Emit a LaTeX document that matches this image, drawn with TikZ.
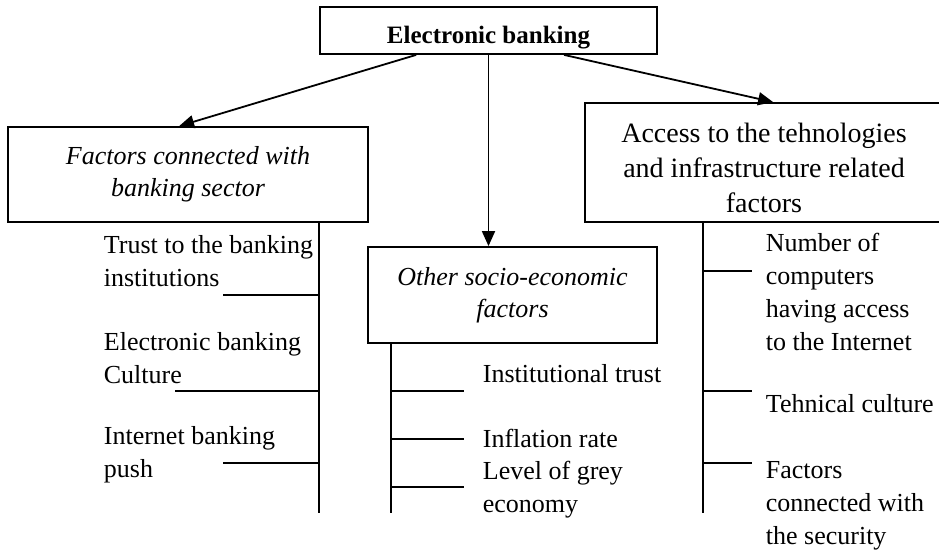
\documentclass[tikz,border=0pt]{standalone}
\usepackage{fontspec}
\setmainfont{Liberation Serif}
\usetikzlibrary{arrows.meta}
\usetikzlibrary{positioning}

\begin{document}
\begin{tikzpicture}[x=1pt,y=-1pt,line width=1.8pt,
  box/.style={draw,inner sep=0pt,align=center},
  item/.style={anchor=base west,align=left,inner sep=0pt,font=\fontsize{26}{33}\selectfont},
  tip/.style={-{Triangle[length=15pt,width=13pt]}}]
\useasboundingbox (0,0) rectangle (939,550);

\node[box,minimum width=337pt,minimum height=47pt,text height=25pt,text depth=0pt,
  font=\fontsize{25}{30}\selectfont\bfseries] (top) at (488.5,30.5) {Electronic banking};
\node[box,minimum width=360pt,minimum height=95pt,
  font=\fontsize{26}{32}\selectfont\itshape] (bank) at (188,174.5) {Factors connected with\\banking sector};
\node[box,minimum width=289pt,minimum height=96pt,
  font=\fontsize{26}{32}\selectfont\itshape] (socio) at (512.5,295) {Other socio-economic\\factors};
\node[box,minimum width=358pt,minimum height=119pt,text height=100pt,text depth=0pt,
  font=\fontsize{28}{35}\selectfont] (tech) at (764,162.5) {Access to the tehnologies\\and infrastructure related\\factors};

\draw[tip] ([xshift=97pt]top.south west) -- ([xshift=172pt]bank.north west);
\draw[tip] (top.south) -- (top.south |- socio.north);
\draw[tip] ([xshift=245pt]top.south west) -- ([xshift=189pt]tech.north west);

\coordinate (bankstem) at ([xshift=312pt]bank.south west);
\coordinate (sociostem) at ([xshift=24pt]socio.south west);
\coordinate (techstem) at ([xshift=119pt]tech.south west);
\draw (bankstem) -- ++(0,290);
\draw (sociostem) -- ++(0,169);
\draw (techstem) -- ++(0,290);

\foreach \y/\l in {295/96,391/144,463/96}
  \draw (bankstem |- 0,\y) -- ++(-\l,0);
\foreach \y in {391,439,487}
  \draw (sociostem |- 0,\y) -- ++(73,0);
\foreach \y in {271,391,463}
  \draw (techstem |- 0,\y) -- ++(49,0);

\node[item] (trust) at (103,286) {Trust to the banking\\institutions};
\node[item] (eculture) at (103,383) {Electronic banking\\Culture};
\node[item] (push) at (103,477) {Internet banking\\push};
\node[item] (itrust) at (482,382) {Institutional trust};
\node[item] (inflation) at (482,447) {Inflation rate};
\node[item] (grey) at (482,512) {Level of grey\\economy};
\node[item] (computers) at (765,350) {Number of\\computers\\having access\\to the Internet};
\node[item] (tculture) at (765,412) {Tehnical culture};
\node[item] (security) at (765,544) {Factors\\connected with\\the security};
\end{tikzpicture}
\end{document}
